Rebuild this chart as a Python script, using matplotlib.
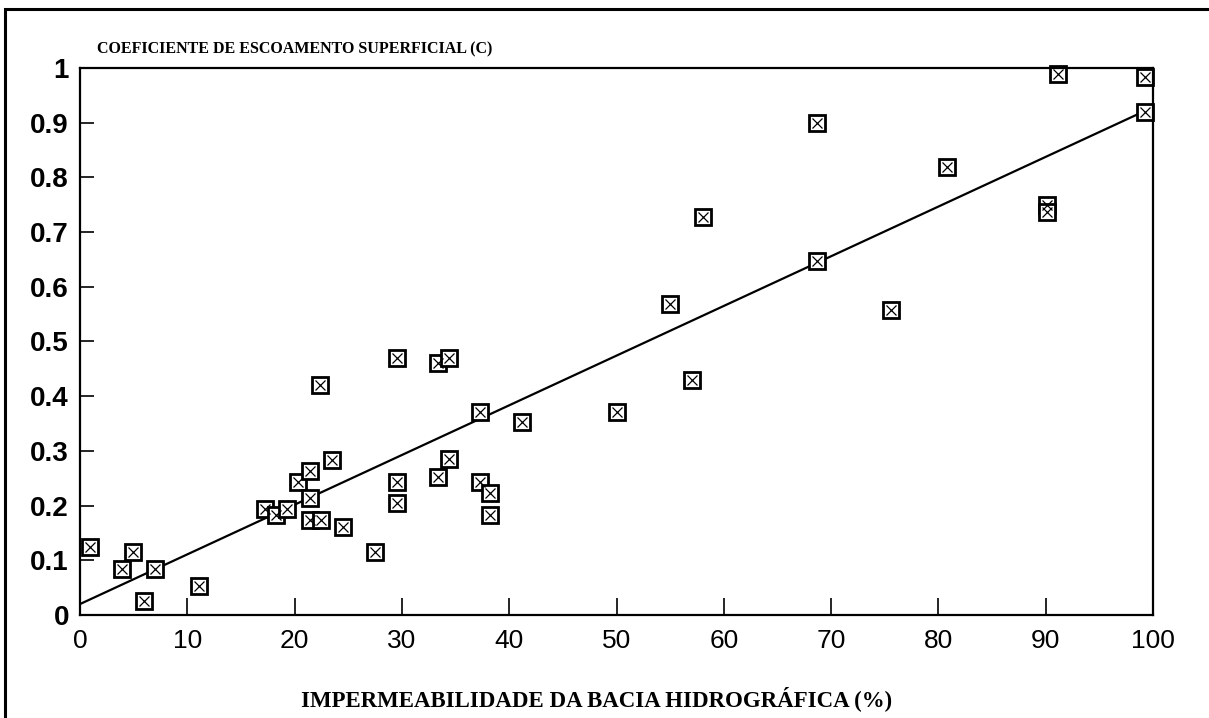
import matplotlib
matplotlib.use("Agg")
import matplotlib.pyplot as plt
import matplotlib.patches as mpatch

# impermeabilidade (%) vs coeficiente C
imperm = [0.9, 3.9, 4.9, 6.0, 7.0, 11.1, 17.2, 18.3, 19.3, 20.3, 21.4, 21.4,
          21.4, 22.5, 22.4, 23.5, 24.5, 27.5, 29.5, 29.5, 29.5, 33.4, 34.4,
          33.4, 34.4, 37.3, 37.3, 38.2, 38.2, 41.2, 50.0, 55.0, 57.0, 58.1,
          68.7, 68.7, 75.6, 80.8, 90.1, 90.1, 91.1, 99.3, 99.3]
coef = [0.124, 0.084, 0.115, 0.025, 0.084, 0.053, 0.193, 0.183, 0.193, 0.243,
        0.263, 0.214, 0.174, 0.174, 0.42, 0.283, 0.161, 0.115, 0.47, 0.243,
        0.204, 0.46, 0.47, 0.253, 0.285, 0.371, 0.243, 0.223, 0.183, 0.353,
        0.371, 0.569, 0.43, 0.728, 0.90, 0.647, 0.558, 0.819, 0.75, 0.737,
        0.989, 0.983, 0.92]

# regression line end points as drawn
fit_x = [0, 99.3]
fit_y = [0.02, 0.922]

xticks = list(range(0, 101, 10))
yticks = [0, 0.1, 0.2, 0.3, 0.4, 0.5, 0.6, 0.7, 0.8, 0.9, 1]
ytick_labels = ['0', '0.1', '0.2', '0.3', '0.4', '0.5', '0.6', '0.7', '0.8', '0.9', '1']

TITLE = 'COEFICIENTE DE ESCOAMENTO SUPERFICIAL (C)'
XLABEL = 'IMPERMEABILIDADE DA BACIA HIDROGRÁFICA (%)'

fig = plt.figure(figsize=(12.09, 7.18), dpi=100)
ax = fig.add_axes([80/1209, 1 - 615/718, (1153-80)/1209, (615-68)/718])

ax.plot(fit_x, fit_y, color='black', linewidth=1.6)
ax.plot(imperm, coef, linestyle='none', marker='s', markersize=11.5,
        markerfacecolor='white', markeredgecolor='black', markeredgewidth=2.0, clip_on=False)
ax.plot(imperm, coef, linestyle='none', marker='x', markersize=6.5,
        color='black', markeredgewidth=0.9, clip_on=False)

ax.set_xlim(0, 100)
ax.set_ylim(0, 1)
for s in ax.spines.values():
    s.set_linewidth(1.6)

ax.set_xticks(xticks)
ax.set_yticks(yticks)
ax.set_yticklabels(ytick_labels)
ax.tick_params(axis='both', direction='in', width=1.2, top=False, right=False)
ax.tick_params(axis='x', length=12, pad=10, labelsize=19)
ax.tick_params(axis='y', length=10, pad=8, labelsize=20)
for lab in ax.get_xticklabels():
    lab.set_family('Liberation Sans')
for lab in ax.get_yticklabels():
    lab.set_family('Liberation Sans')
    lab.set_fontweight('bold')

fig.text(97/1209, 1 - 53/718, TITLE, family='Liberation Serif', fontweight='bold',
         fontsize=11.5, ha='left', va='baseline')
fig.text(597/1209, 1 - 706/718, XLABEL, family='Liberation Serif', fontweight='bold',
         fontsize=16.5, ha='center', va='baseline')

# outer frame of the scanned figure
fig.patches.append(mpatch.Rectangle((5/1209, -0.05), 1.2, 1 - 9/718 + 0.05,
                                    transform=fig.transFigure, fill=False,
                                    edgecolor='black', linewidth=2.2))

fig.savefig('out.png', dpi=100)
